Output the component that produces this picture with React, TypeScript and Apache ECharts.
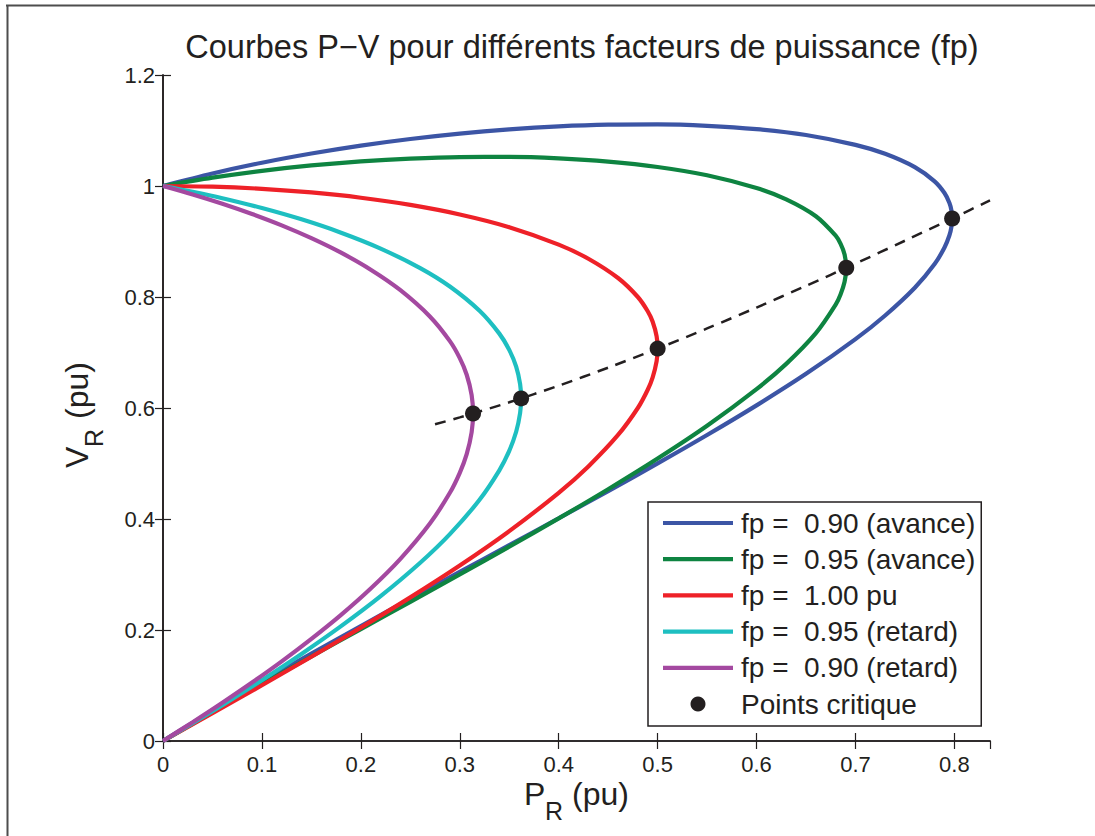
import React, { useEffect, useRef } from 'react';
import * as echarts from 'echarts';

const FF = '"Liberation Sans", Arial, Helvetica, sans-serif';
const INK = '#231f20';

const titleText = 'Courbes P\u2212V pour différents facteurs de puissance (fp)';
const seriesNames = [
  'fp =  0.90 (avance)',
  'fp =  0.95 (avance)',
  'fp =  1.00 pu',
  'fp =  0.95 (retard)',
  'fp =  0.90 (retard)',
];
const criticalName = 'Points critique';
const seriesColors = ['#3c55a5', '#0e8441', '#ee2128', '#1ebfc1', '#a449a0'];

// fp = 0.90 (avance): upper branch (P, V) then lower branch back to origin
const lead090Upper = [
  [0, 1], [0.05, 1.0225], [0.1, 1.0419], [0.15, 1.0585], [0.2, 1.0728], [0.25, 1.0847],
  [0.3, 1.0945], [0.35, 1.102], [0.4, 1.1074], [0.45, 1.1105], [0.5, 1.111], [0.55, 1.1085],
  [0.6, 1.1025], [0.65, 1.0918], [0.7, 1.0741], [0.73, 1.058], [0.76, 1.034], [0.78, 1.0084],
  [0.79, 0.9873], [0.795, 0.9694], [0.797, 0.956], [0.7977, 0.9415],
];
const lead090Lower = [
  [0.797, 0.9263], [0.795, 0.9112], [0.79, 0.8891], [0.78, 0.8594], [0.76, 0.8167], [0.73, 0.7667],
  [0.7, 0.7241], [0.65, 0.6615], [0.6, 0.6047], [0.55, 0.5513], [0.5, 0.5001], [0.45, 0.4503],
  [0.4, 0.4013], [0.35, 0.3529], [0.3, 0.3046], [0.25, 0.2561], [0.2, 0.2072], [0.15, 0.1575],
  [0.1, 0.1066], [0.05, 0.0543], [0, 0],
];
// fp = 0.95 (avance)
const lead095Upper = [
  [0, 1], [0.05, 1.015], [0.1, 1.0273], [0.15, 1.037], [0.2, 1.0444], [0.25, 1.0495],
  [0.3, 1.0522], [0.35, 1.0524], [0.4, 1.0498], [0.45, 1.044], [0.5, 1.0343], [0.55, 1.0193],
  [0.6, 0.9963], [0.63, 0.9759], [0.66, 0.9455], [0.68, 0.9105], [0.685, 0.8957], [0.689, 0.8766],
  [0.6907, 0.8527],
];
const lead095Lower = [
  [0.689, 0.8274], [0.685, 0.8051], [0.68, 0.7862], [0.66, 0.7348], [0.63, 0.6795], [0.6, 0.634],
  [0.55, 0.568], [0.5, 0.5089], [0.45, 0.4537], [0.4, 0.4011], [0.35, 0.3501], [0.3, 0.3001],
  [0.25, 0.2507], [0.2, 0.2016], [0.15, 0.1523], [0.1, 0.1025], [0.05, 0.0519], [0, 0],
];
// fp = 1.00
const unityUpper = [
  [0, 1], [0.05, 0.9987], [0.1, 0.9949], [0.15, 0.9884], [0.2, 0.9789], [0.25, 0.9659],
  [0.3, 0.9487], [0.35, 0.9258], [0.4, 0.8944], [0.43, 0.869], [0.46, 0.8342], [0.48, 0.8],
  [0.49, 0.7743], [0.495, 0.7553], [0.499, 0.7291], [0.5, 0.7071],
];
const unityLower = [
  [0.499, 0.6844], [0.495, 0.6553], [0.49, 0.6329], [0.48, 0.6], [0.46, 0.5514], [0.43, 0.4948],
  [0.4, 0.4472], [0.35, 0.3781], [0.3, 0.3162], [0.25, 0.2588], [0.2, 0.2043], [0.15, 0.1518],
  [0.1, 0.1005], [0.05, 0.0501], [0, 0],
];
// fp = 0.95 (retard)
const lag095Upper = [
  [0, 1], [0.03, 0.9896], [0.06, 0.978], [0.1, 0.9603], [0.14, 0.9399], [0.18, 0.9159],
  [0.22, 0.8873], [0.26, 0.852], [0.29, 0.8188], [0.32, 0.7751], [0.34, 0.734], [0.35, 0.7047],
  [0.357, 0.6744], [0.361, 0.6429], [0.362, 0.6173],
];
const lag095Lower = [
  [0.361, 0.5911], [0.357, 0.5572], [0.35, 0.5228], [0.34, 0.4876], [0.32, 0.4346], [0.29, 0.3728],
  [0.26, 0.3212], [0.22, 0.261], [0.18, 0.2069], [0.14, 0.1568], [0.1, 0.1096], [0.06, 0.0646],
  [0.03, 0.0319], [0, 0],
];
// fp = 0.90 (retard)
const lag090Upper = [
  [0, 1], [0.03, 0.9848], [0.06, 0.9681], [0.09, 0.9496], [0.12, 0.9291], [0.15, 0.906],
  [0.18, 0.8798], [0.21, 0.8492], [0.24, 0.8123], [0.27, 0.7645], [0.29, 0.7205], [0.3, 0.6899],
  [0.307, 0.6599], [0.312, 0.6232], [0.3134, 0.5901],
];
const lag090Lower = [
  [0.312, 0.5563], [0.307, 0.5169], [0.3, 0.4832], [0.29, 0.4472], [0.27, 0.3924], [0.24, 0.3283],
  [0.21, 0.2748], [0.18, 0.2273], [0.15, 0.184], [0.12, 0.1435], [0.09, 0.1053], [0.06, 0.0689],
  [0.03, 0.0339], [0, 0],
];

const criticalPoints = [
  [0.7977, 0.9415], [0.6907, 0.8527], [0.5, 0.7071], [0.362, 0.6173], [0.3134, 0.5901],
];
const criticalLocus = [
  [0.275, 0.5706], [0.3, 0.5831], [0.35, 0.6103], [0.4, 0.6403], [0.45, 0.6727], [0.5, 0.7071],
  [0.55, 0.7433], [0.6, 0.781], [0.65, 0.8201], [0.7, 0.8602], [0.75, 0.9014], [0.8, 0.9434],
  [0.836, 0.9741],
];

const curves = [
  lead090Upper.concat(lead090Lower),
  lead095Upper.concat(lead095Lower),
  unityUpper.concat(unityLower),
  lag095Upper.concat(lag095Lower),
  lag090Upper.concat(lag090Lower),
];

const xMin = 0;
const xMax = 0.836;
const xStep = 0.1;
const yMin = 0;
const yMax = 1.2;
const yStep = 0.2;

const LINE_ICON = 'path://M0,0L70,0L70,4.2L0,4.2Z';

function buildOption(): any {
  const axisLine = { show: true, lineStyle: { color: INK, width: 1.6 } };
  const axisTick = { show: true, inside: true, length: 8, lineStyle: { color: INK, width: 1.2 } };
  const labelStyle = { color: INK, fontSize: 22, fontFamily: FF };

  const lineSeries = curves.map((data, i) => ({
    name: seriesNames[i],
    type: 'line',
    data,
    xAxisIndex: 0,
    yAxisIndex: 0,
    symbol: 'none',
    smooth: 0.3,
    lineStyle: { width: 4.2, color: seriesColors[i] },
    itemStyle: { color: seriesColors[i] },
    z: 2 + i,
  }));

  return {
    animation: false,
    backgroundColor: '#ffffff',
    title: {
      text: titleText,
      left: 577,
      top: 25,
      textAlign: 'center',
      textStyle: { fontSize: 32.5, fontWeight: 'normal', color: INK, fontFamily: FF },
    },
    grid: { left: 163, right: 105, top: 75, bottom: 95, containLabel: false },
    xAxis: [
      {
        type: 'value', position: 'bottom', min: xMin, max: xMax, interval: xStep,
        axisLine, axisTick, splitLine: { show: false },
        axisLabel: { ...labelStyle, margin: 12, showMaxLabel: false },
      },
      {
        type: 'value', position: 'top', min: xMin, max: xMax, interval: xStep,
        axisLine, axisTick, splitLine: { show: false }, axisLabel: { show: false },
      },
    ],
    yAxis: [
      {
        type: 'value', position: 'left', min: yMin, max: yMax, interval: yStep,
        axisLine, axisTick, splitLine: { show: false },
        axisLabel: { ...labelStyle, margin: 8 },
      },
      {
        type: 'value', position: 'right', min: yMin, max: yMax, interval: yStep,
        axisLine, axisTick, splitLine: { show: false }, axisLabel: { show: false },
      },
    ],
    legend: {
      data: [
        ...seriesNames.map((n) => ({ name: n, icon: LINE_ICON })),
        { name: criticalName, icon: 'circle' },
      ],
      orient: 'vertical',
      left: 648,
      top: 502,
      padding: [7, 6, 8, 15],
      itemWidth: 70,
      itemHeight: 15,
      itemGap: 8.2,
      symbolKeepAspect: true,
      borderColor: INK,
      borderWidth: 1.5,
      backgroundColor: '#ffffff',
      selectedMode: false,
      itemStyle: { borderWidth: 0 },
      textStyle: { fontSize: 28, lineHeight: 27, color: INK, fontFamily: FF, padding: [0, 0, 0, 3] },
      z: 20,
    },
    series: [
      ...lineSeries,
      {
        name: 'locus',
        type: 'line',
        data: criticalLocus,
        symbol: 'none',
        smooth: 0.3,
        lineStyle: { width: 2.5, color: INK, type: [11, 8] },
        z: 8,
        silent: true,
      },
      {
        name: criticalName,
        type: 'scatter',
        data: criticalPoints,
        symbol: 'circle',
        symbolSize: 16,
        itemStyle: { color: INK, opacity: 1 },
        z: 9,
      },
    ],
    graphic: [
      { type: 'line', shape: { x1: 6, y1: 5.5, x2: 1095, y2: 5.5 }, style: { stroke: '#4d4d4d', lineWidth: 2 }, silent: true },
      { type: 'line', shape: { x1: 7.5, y1: 5, x2: 7.5, y2: 836 }, style: { stroke: '#4d4d4d', lineWidth: 2 }, silent: true },
      {
        type: 'group',
        silent: true,
        children: [
          { type: 'text', x: 524, y: 794, style: { text: 'P', fill: INK, font: `32px ${FF}`, textAlign: 'left', textVerticalAlign: 'middle' } },
          { type: 'text', x: 545, y: 811, style: { text: 'R', fill: INK, font: `25px ${FF}`, textAlign: 'left', textVerticalAlign: 'middle' } },
          { type: 'text', x: 572, y: 794, style: { text: '(pu)', fill: INK, font: `32px ${FF}`, textAlign: 'left', textVerticalAlign: 'middle' } },
        ],
      },
      {
        type: 'group',
        x: 77,
        y: 468,
        rotation: Math.PI / 2,
        silent: true,
        children: [
          { type: 'text', x: 0, y: 0, style: { text: 'V', fill: INK, font: `32px ${FF}`, textAlign: 'left', textVerticalAlign: 'middle' } },
          { type: 'text', x: 21, y: 17, style: { text: 'R', fill: INK, font: `25px ${FF}`, textAlign: 'left', textVerticalAlign: 'middle' } },
          { type: 'text', x: 49, y: 0, style: { text: '(pu)', fill: INK, font: `32px ${FF}`, textAlign: 'left', textVerticalAlign: 'middle' } },
        ],
      },
    ],
  };
}

export default function App() {
  const ref = useRef<HTMLDivElement>(null);
  useEffect(() => {
    document.body.style.margin = '0';
    const chart = echarts.init(ref.current as HTMLDivElement, null, { renderer: 'svg' });
    chart.setOption(buildOption());
    return () => chart.dispose();
  }, []);
  return <div ref={ref} style={{ width: 1095, height: 836, background: '#fff' }} />;
}
